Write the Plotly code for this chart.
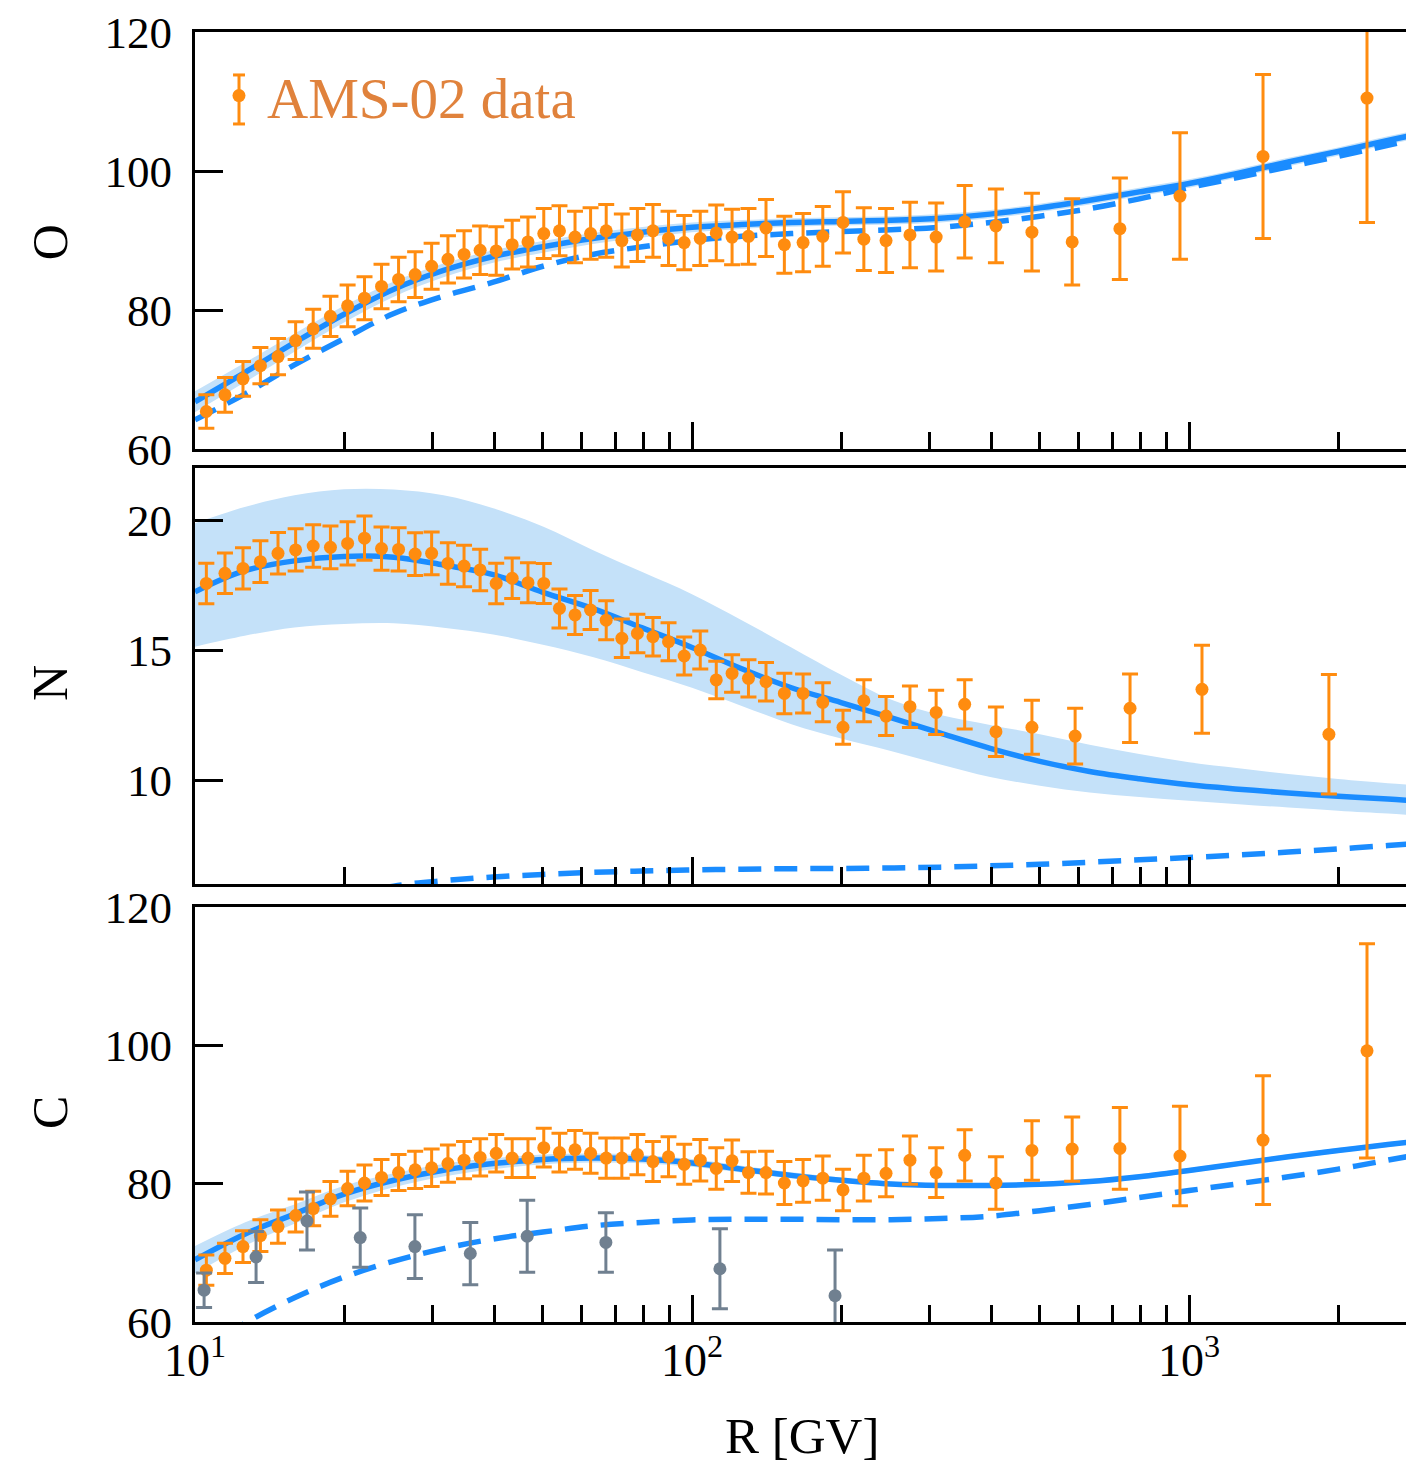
import plotly.graph_objects as go

# ---------------- data ----------------
R_bins = [10.54, 11.49, 12.49, 13.54, 14.69, 15.94, 17.29, 18.73, 20.28, 21.93,
          23.73, 25.68, 27.73, 29.93, 32.28, 34.78, 37.47, 40.37, 43.47, 46.77,
          50.32, 54.12, 58.16, 62.51, 67.2, 72.25, 77.65, 83.45, 89.69, 96.44,
          103.9, 111.9, 120.4, 129.9, 140.9, 153.4, 167.3, 183.3, 201.3, 221.7,
          245.7, 274.5, 309.9, 353.7, 408.8]

O_R = R_bins + [483, 582, 726, 959, 1409, 2281]
O_val = [65.4, 67.8, 70.1, 72.0, 73.3, 75.6, 77.3, 79.1, 80.6, 81.7,
         83.4, 84.4, 85.1, 86.3, 87.3, 88.0, 88.6, 88.5, 89.4, 89.8,
         91.0, 91.4, 90.5, 91.0, 91.4, 90.0, 90.8, 91.4, 90.3, 89.7,
         90.3, 91.1, 90.5, 90.6, 91.8, 89.4, 89.7, 90.6, 92.6, 90.2,
         90.0, 90.8, 90.5, 92.7, 92.1, 91.2, 89.8, 91.7, 96.4, 102.1, 110.5]
O_err = [2.4, 2.5, 2.5, 2.6, 2.6, 2.7, 2.8, 2.9, 3.0, 3.1,
         3.2, 3.2, 3.3, 3.3, 3.4, 3.4, 3.5, 3.5, 3.5, 3.6,
         3.6, 3.6, 3.7, 3.7, 3.8, 3.8, 3.8, 3.8, 3.9, 3.9,
         3.9, 4.0, 4.0, 4.0, 4.1, 4.1, 4.2, 4.3, 4.4, 4.5,
         4.6, 4.7, 4.9, 5.2, 5.3, 5.6, 6.2, 7.3, 9.1, 11.8, 17.9]

N_R = R_bins + [483, 590, 761, 1062, 1912]
N_val = [17.56, 17.95, 18.14, 18.40, 18.72, 18.85, 19.0, 18.95, 19.1, 19.3,
         18.9, 18.87, 18.69, 18.72, 18.33, 18.23, 18.08, 17.56, 17.76, 17.59,
         17.56, 16.6, 16.35, 16.54, 16.15, 15.45, 15.64, 15.51, 15.32, 14.77,
         15.0, 13.85, 14.1, 13.91, 13.78, 13.33, 13.33, 12.99, 12.03, 13.05,
         12.46, 12.82, 12.6, 12.91, 11.86, 12.03, 11.69, 12.76, 13.49, 11.76]
N_err = [0.78, 0.78, 0.79, 0.80, 0.80, 0.81, 0.82, 0.82, 0.83, 0.85,
         0.83, 0.83, 0.82, 0.82, 0.80, 0.80, 0.80, 0.78, 0.78, 0.77,
         0.77, 0.75, 0.75, 0.75, 0.75, 0.74, 0.74, 0.74, 0.73, 0.73,
         0.73, 0.72, 0.72, 0.72, 0.74, 0.78, 0.75, 0.75, 0.65, 0.81,
         0.75, 0.80, 0.85, 0.95, 0.95, 1.04, 1.07, 1.32, 1.69, 2.30]

C_R = R_bins + [483, 582, 726, 959, 1409, 2281]
C_val = [67.5, 69.2, 70.9, 72.5, 73.8, 75.4, 76.4, 77.8, 79.3, 80.1,
         80.9, 81.6, 82.0, 82.3, 82.9, 83.4, 83.8, 84.4, 83.7, 83.7,
         85.2, 84.5, 84.9, 84.4, 83.7, 83.7, 84.2, 83.2, 83.9, 82.8,
         83.4, 82.2, 83.3, 81.6, 81.6, 80.1, 80.4, 80.8, 79.1, 80.8,
         81.5, 83.4, 81.6, 84.1, 80.1, 84.8, 85.0, 85.1, 84.0, 86.3, 99.2]
C_err = [2.2, 2.2, 2.3, 2.3, 2.4, 2.4, 2.5, 2.5, 2.5, 2.6,
         2.6, 2.6, 2.7, 2.7, 2.7, 2.7, 2.7, 2.7, 2.8, 2.8,
         2.8, 2.8, 2.8, 2.9, 2.9, 2.9, 2.9, 2.9, 2.9, 2.9,
         3.0, 3.0, 3.0, 3.0, 3.1, 3.1, 3.1, 3.2, 3.0, 3.3,
         3.4, 3.5, 3.6, 3.7, 3.8, 4.3, 4.65, 5.9, 7.2, 9.3, 15.5]

C_old_R = [10.43, 13.27, 16.8, 21.5, 27.7, 35.8, 46.6, 67.1, 113.8, 194]
C_old_val = [64.6, 69.4, 74.6, 72.2, 70.9, 69.9, 72.4, 71.5, 67.7, 63.8]
C_old_err = [2.5, 3.7, 4.2, 4.3, 4.6, 4.5, 5.2, 4.3, 5.8, 6.6]

# model curves, sampled every 0.1 decade
model_R = [10, 12.59, 15.85, 19.95, 25.12, 31.62, 39.81, 50.12, 63.1, 79.43,
           100, 125.9, 158.5, 199.5, 251.2, 316.2, 398.1, 501.2, 631, 794.3,
           1000, 1259, 1585, 1995, 2512, 2840]

O_total = [66.8, 71.0, 75.3, 79.4, 83.0, 85.7, 87.7, 89.1, 90.3, 91.2,
           91.9, 92.3, 92.6, 92.75, 92.9, 93.2, 93.8, 94.7, 95.8, 97.0,
           98.2, 99.7, 101.3, 102.8, 104.4, 105.2]
O_upper = [68.3, 72.4, 76.6, 80.6, 84.1, 86.7, 88.6, 89.95, 91.1, 91.95,
           92.6, 92.95, 93.2, 93.35, 93.5, 93.8, 94.4, 95.3, 96.4, 97.6,
           98.8, 100.3, 101.9, 103.4, 105.0, 105.8]
O_lower = [65.3, 69.6, 74.0, 78.2, 81.9, 84.7, 86.8, 88.25, 89.5, 90.45,
           91.2, 91.65, 92.0, 92.15, 92.3, 92.6, 93.2, 94.1, 95.2, 96.4,
           97.6, 99.1, 100.7, 102.2, 103.8, 104.6]
O_primary = [64.2, 67.9, 72.1, 75.9, 79.5, 82.0, 84.0, 86.3, 88.0, 89.1,
             90.0, 90.6, 91.0, 91.3, 91.55, 91.9, 92.6, 93.5, 94.6, 96.0,
             97.6, 99.1, 100.6, 102.1, 103.7, 104.5]

N_total = [17.24, 18.05, 18.43, 18.6, 18.57, 18.27, 17.9, 17.22, 16.6, 15.85,
           15.1, 14.28, 13.55, 12.98, 12.4, 11.8, 11.22, 10.72, 10.33, 10.05,
           9.82, 9.65, 9.5, 9.38, 9.27, 9.2]
N_upper = [19.88, 20.5, 20.95, 21.18, 21.17, 20.95, 20.45, 19.75, 18.85, 18.0,
           17.15, 16.15, 15.1, 14.05, 13.1, 12.5, 12.12, 11.76, 11.36, 11.0,
           10.68, 10.45, 10.23, 10.04, 9.88, 9.81]
N_lower = [15.13, 15.55, 15.87, 16.0, 16.03, 15.86, 15.6, 15.2, 14.73, 14.15,
           13.55, 12.85, 12.15, 11.6, 11.12, 10.6, 10.12, 9.78, 9.52, 9.35,
           9.2, 9.07, 8.94, 8.82, 8.71, 8.65]
N_prim_R = [19.95, 25.12, 31.62, 39.81, 50.12, 63.1, 79.43, 100, 125.9, 158.5,
            199.5, 251.2, 316.2, 398.1, 501.2, 631, 794.3, 1000, 1259, 1585,
            1995, 2512, 2840]
N_primary = [5.5, 5.92, 6.13, 6.27, 6.37, 6.45, 6.5, 6.54, 6.57, 6.59,
             6.6, 6.62, 6.65, 6.7, 6.76, 6.84, 6.93, 7.02, 7.12, 7.23,
             7.35, 7.48, 7.56]

C_total = [69.0, 72.7, 75.6, 78.5, 80.5, 81.95, 82.9, 83.5, 83.7, 83.55,
           83.0, 82.1, 81.2, 80.5, 79.95, 79.75, 79.75, 79.9, 80.3, 81.0,
           81.9, 82.9, 83.9, 84.8, 85.65, 86.1]
C_upper = [71.0, 74.4, 77.0, 79.7, 81.5, 82.85, 83.7, 84.2, 84.35, 84.15,
           83.55, 82.6, 81.65, 80.9, 80.3, 80.1, 80.1, 80.25, 80.65, 81.35,
           82.25, 83.25, 84.25, 85.15, 86.0, 86.45]
C_lower = [67.0, 71.0, 74.2, 77.3, 79.5, 81.05, 82.1, 82.8, 83.05, 82.95,
           82.45, 81.6, 80.75, 80.1, 79.6, 79.4, 79.4, 79.55, 79.95, 80.65,
           81.55, 82.55, 83.55, 84.45, 85.3, 85.75]
C_primary = [55.0, 59.8, 63.5, 66.5, 68.8, 70.6, 72.0, 73.0, 73.9, 74.4,
             74.75, 74.85, 74.85, 74.8, 74.8, 74.95, 75.3, 76.1, 77.0, 78.0,
             79.0, 80.0, 81.0, 82.1, 83.4, 84.1]

x_major = [10, 100, 1000]
x_major_text = ["10<sup>1</sup>", "10<sup>2</sup>", "10<sup>3</sup>"]
x_minor = [20, 30, 40, 50, 60, 70, 80, 90, 200, 300, 400, 500, 600, 700, 800,
           900, 2000]

# ---------------- style ----------------
BLUE = "#1a8cff"
BAND = "#c4e1f9"
ORANGE = "#ff8c0f"
GRAY = "#708090"
LEG = "#e0823c"
FONT = "Liberation Serif"

fig = go.Figure()

panels = [
    ("x", "y", O_R, O_val, O_err, O_total, O_upper, O_lower, model_R, O_primary),
    ("x2", "y2", N_R, N_val, N_err, N_total, N_upper, N_lower, N_prim_R, N_primary),
    ("x3", "y3", C_R, C_val, C_err, C_total, C_upper, C_lower, model_R, C_primary),
]

for i, (xa, ya, dR, dv, de, tot, up, lo, pR, prim) in enumerate(panels):
    fig.add_trace(go.Scatter(x=model_R, y=lo, xaxis=xa, yaxis=ya, mode="lines",
                             line=dict(color=BAND, width=0, shape="spline"),
                             showlegend=False, hoverinfo="skip"))
    fig.add_trace(go.Scatter(x=model_R, y=up, xaxis=xa, yaxis=ya, mode="lines",
                             line=dict(color=BAND, width=0, shape="spline"),
                             fill="tonexty", fillcolor=BAND,
                             showlegend=False, hoverinfo="skip"))
    fig.add_trace(go.Scatter(x=pR, y=prim, xaxis=xa, yaxis=ya, mode="lines",
                             line=dict(color=BLUE, width=5.5, dash="23px,13px",
                                       shape="spline"),
                             showlegend=False))
    fig.add_trace(go.Scatter(x=model_R, y=tot, xaxis=xa, yaxis=ya, mode="lines",
                             line=dict(color=BLUE, width=5.5, shape="spline"),
                             showlegend=False))
    fig.add_trace(go.Scatter(x=dR, y=dv, xaxis=xa, yaxis=ya, mode="markers",
                             name="AMS-02 data",
                             marker=dict(color=ORANGE, size=13),
                             error_y=dict(type="data", array=de, color=ORANGE,
                                          thickness=3, width=8),
                             showlegend=(i == 0), cliponaxis=True))
    if i == 2:
        fig.add_trace(go.Scatter(x=C_old_R, y=C_old_val, xaxis=xa, yaxis=ya,
                                 mode="markers",
                                 marker=dict(color=GRAY, size=13),
                                 error_y=dict(type="data", array=C_old_err,
                                              color=GRAY, thickness=3, width=8),
                                 showlegend=False, cliponaxis=True))

xcommon = dict(type="log", range=[1, 3.4527], showline=True, mirror=True,
               linecolor="black", linewidth=3, ticks="inside", ticklen=27,
               tickwidth=3, tickcolor="black", tickvals=x_major,
               ticktext=x_major_text, showgrid=False, zeroline=False,
               automargin=False, ticklabeloverflow="allow",
               minor=dict(tickvals=x_minor, ticks="inside", ticklen=17,
                          tickwidth=3, tickcolor="black", showgrid=False),
               tickfont=dict(family=FONT, size=46, color="black"))

ycommon = dict(showline=True, mirror=False, linecolor="black", linewidth=3,
               ticks="inside", ticklen=28, tickwidth=3, tickcolor="black",
               showgrid=False, zeroline=False, ticklabelstandoff=11,
               automargin=False, ticklabeloverflow="allow",
               tickfont=dict(family=FONT, size=45, color="black"))

# axis titles as annotations (paper coordinates of the plot area)
title_font = dict(family=FONT, size=50, color="black")
annotations = [
    dict(text="O", x=-0.119, y=0.837, xref="paper", yref="paper",
         textangle=-90, showarrow=False, font=title_font,
         xanchor="center", yanchor="middle"),
    dict(text="N", x=-0.119, y=0.4953, xref="paper", yref="paper",
         textangle=-90, showarrow=False, font=title_font,
         xanchor="center", yanchor="middle"),
    dict(text="C", x=-0.119, y=0.1628, xref="paper", yref="paper",
         textangle=-90, showarrow=False, font=title_font,
         xanchor="center", yanchor="middle"),
    dict(text="R [GV]", x=0.498, y=-0.0885, xref="paper", yref="paper",
         showarrow=False, font=dict(family=FONT, size=51, color="black"),
         xanchor="center", yanchor="middle"),
]

# error-bar glyph for the legend key (drawn over the legend's own dot)
leg_x, leg_top, leg_bot, cap = 0.0361, 0.9667, 0.9287, 0.0049
shapes = [
    dict(type="line", xref="paper", yref="paper", x0=leg_x, x1=leg_x,
         y0=leg_bot, y1=leg_top, line=dict(color=ORANGE, width=3)),
    dict(type="line", xref="paper", yref="paper", x0=leg_x - cap,
         x1=leg_x + cap, y0=leg_top, y1=leg_top,
         line=dict(color=ORANGE, width=3)),
    dict(type="line", xref="paper", yref="paper", x0=leg_x - cap,
         x1=leg_x + cap, y0=leg_bot, y1=leg_bot,
         line=dict(color=ORANGE, width=3)),
]

# the page body has an 8 px margin, so the figure is 8 px smaller than the window
fig.update_layout(
    width=1406, height=1456,
    margin=dict(l=187, r=0, t=24, b=142),
    paper_bgcolor="white", plot_bgcolor="white",
    xaxis=dict(xcommon, anchor="y", showticklabels=False),
    xaxis2=dict(xcommon, anchor="y2", matches="x", showticklabels=False),
    xaxis3=dict(xcommon, anchor="y3", matches="x", ticklabelstandoff=-4),
    yaxis=dict(ycommon, domain=[0.6767, 1.0], range=[60, 120],
               tickvals=[60, 80, 100, 120]),
    yaxis2=dict(ycommon, domain=[0.3395, 0.662], range=[6, 22],
                tickvals=[10, 15, 20]),
    yaxis3=dict(ycommon, domain=[0.0, 0.3217], range=[60, 120],
                tickvals=[60, 80, 100, 120]),
    annotations=annotations,
    shapes=shapes,
    showlegend=True,
    legend=dict(x=0.0131, y=0.9845, xanchor="left", yanchor="top",
                itemwidth=46,
                bgcolor="rgba(0,0,0,0)", borderwidth=0,
                font=dict(family=FONT, size=57, color=LEG)),
)

fig.write_html("out.html")
